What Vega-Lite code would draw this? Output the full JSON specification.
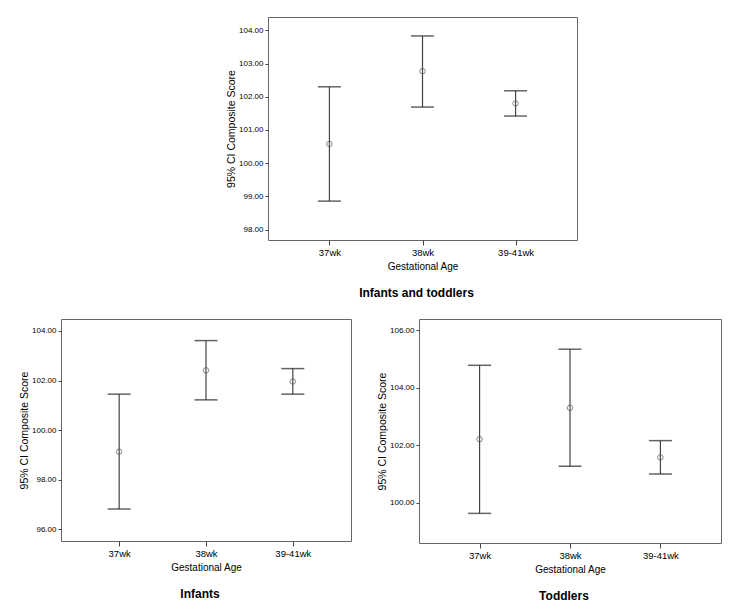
{
  "$schema": "https://vega.github.io/schema/vega-lite/v6.json",
  "background": "white",
  "padding": {"left": 19, "top": 16, "right": 5, "bottom": 5},
  "datasets": {
    "ci": [
      {"group": "Infants and toddlers", "age": "37wk", "lower": 98.86, "mean": 100.58, "upper": 102.30},
      {"group": "Infants and toddlers", "age": "38wk", "lower": 101.69, "mean": 102.77, "upper": 103.83},
      {"group": "Infants and toddlers", "age": "39-41wk", "lower": 101.42, "mean": 101.80, "upper": 102.18},
      {"group": "Infants", "age": "37wk", "lower": 96.82, "mean": 99.13, "upper": 101.45},
      {"group": "Infants", "age": "38wk", "lower": 101.22, "mean": 102.41, "upper": 103.61},
      {"group": "Infants", "age": "39-41wk", "lower": 101.45, "mean": 101.96, "upper": 102.48},
      {"group": "Toddlers", "age": "37wk", "lower": 99.63, "mean": 102.21, "upper": 104.78},
      {"group": "Toddlers", "age": "38wk", "lower": 101.27, "mean": 103.30, "upper": 105.34},
      {"group": "Toddlers", "age": "39-41wk", "lower": 101.00, "mean": 101.58, "upper": 102.16}
    ]
  },
  "config": {
    "font": "Liberation Sans",
    "view": {"stroke": "#666", "strokeWidth": 1},
    "axis": {
      "labelFont": "Liberation Sans", "labelFontSize": 9.5, "labelColor": "#000",
      "titleFont": "Liberation Sans", "titleFontSize": 10, "titleFontWeight": "normal", "titleColor": "#000",
      "domain": false, "grid": false, "tickColor": "#444", "tickSize": 5,
      "labelPadding": 2, "titlePadding": 5
    },
    "axisY": {"tickSize": 3, "labelFontSize": 8, "titlePadding": 2, "titleFontSize": 10.5},
    "title": {"orient": "bottom", "anchor": "middle", "frame": "group", "fontSize": 12, "fontWeight": "bold", "font": "Liberation Sans", "color": "#000", "offset": 16, "dx": -6}
  },
  "spacing": 19,
  "vconcat": [
    {
      "spacing": 0,
      "hconcat": [
        {
          "width": 165, "height": 10,
          "view": {"stroke": null},
          "data": {"values": []},
          "mark": {"type": "point", "opacity": 0}
        },
        {
          "width": 309, "height": 223,
          "title": {"text": "Infants and toddlers"},
          "data": {"name": "ci"},
          "transform": [{"filter": "datum.group === 'Infants and toddlers'"}],
          "encoding": {
            "x": {"field": "age", "type": "ordinal", "sort": ["37wk", "38wk", "39-41wk"], "scale": {"type": "point", "padding": 0.66}, "axis": {"title": "Gestational Age", "labelAngle": 0}}
          },
          "layer": [
            {"mark": {"type": "rule", "color": "#444", "strokeWidth": 1.2},
             "encoding": {"y": {"field": "lower", "type": "quantitative", "title": "95% CI Composite Score", "scale": {"domain": [97.69, 104.4], "nice": false, "zero": false}, "axis": {"values": [98, 99, 100, 101, 102, 103, 104], "format": ".2f"}}, "y2": {"field": "upper"}}},
            {"mark": {"type": "tick", "color": "#222", "size": 23, "thickness": 1.5},
             "encoding": {"y": {"field": "lower", "type": "quantitative", "title": "95% CI Composite Score", "scale": {"domain": [97.69, 104.4], "nice": false, "zero": false}, "axis": {"values": [98, 99, 100, 101, 102, 103, 104], "format": ".2f"}}}},
            {"mark": {"type": "tick", "color": "#222", "size": 23, "thickness": 1.5},
             "encoding": {"y": {"field": "upper", "type": "quantitative", "title": "95% CI Composite Score", "scale": {"domain": [97.69, 104.4], "nice": false, "zero": false}, "axis": {"values": [98, 99, 100, 101, 102, 103, 104], "format": ".2f"}}}},
            {"mark": {"type": "point", "shape": "circle", "filled": false, "color": "#555", "size": 30, "strokeWidth": 1},
             "encoding": {"y": {"field": "mean", "type": "quantitative", "title": "95% CI Composite Score", "scale": {"domain": [97.69, 104.4], "nice": false, "zero": false}, "axis": {"values": [98, 99, 100, 101, 102, 103, 104], "format": ".2f"}}}}
          ]
        }
      ]
    },
    {
      "spacing": 25,
      "hconcat": [
        {
          "width": 290, "height": 222,
          "title": {"text": "Infants"},
          "data": {"name": "ci"},
          "transform": [{"filter": "datum.group === 'Infants'"}],
          "encoding": {
            "x": {"field": "age", "type": "ordinal", "sort": ["37wk", "38wk", "39-41wk"], "scale": {"type": "point", "padding": 0.67}, "axis": {"title": "Gestational Age", "labelAngle": 0}}
          },
          "layer": [
            {"mark": {"type": "rule", "color": "#444", "strokeWidth": 1.2},
             "encoding": {"y": {"field": "lower", "type": "quantitative", "title": "95% CI Composite Score", "scale": {"domain": [95.53, 104.48], "nice": false, "zero": false}, "axis": {"values": [96, 98, 100, 102, 104], "format": ".2f"}}, "y2": {"field": "upper"}}},
            {"mark": {"type": "tick", "color": "#222", "size": 23, "thickness": 1.5},
             "encoding": {"y": {"field": "lower", "type": "quantitative", "title": "95% CI Composite Score", "scale": {"domain": [95.53, 104.48], "nice": false, "zero": false}, "axis": {"values": [96, 98, 100, 102, 104], "format": ".2f"}}}},
            {"mark": {"type": "tick", "color": "#222", "size": 23, "thickness": 1.5},
             "encoding": {"y": {"field": "upper", "type": "quantitative", "title": "95% CI Composite Score", "scale": {"domain": [95.53, 104.48], "nice": false, "zero": false}, "axis": {"values": [96, 98, 100, 102, 104], "format": ".2f"}}}},
            {"mark": {"type": "point", "shape": "circle", "filled": false, "color": "#555", "size": 30, "strokeWidth": 1},
             "encoding": {"y": {"field": "mean", "type": "quantitative", "title": "95% CI Composite Score", "scale": {"domain": [95.53, 104.48], "nice": false, "zero": false}, "axis": {"values": [96, 98, 100, 102, 104], "format": ".2f"}}}}
          ]
        },
        {
          "width": 302, "height": 224,
          "title": {"text": "Toddlers"},
          "data": {"name": "ci"},
          "transform": [{"filter": "datum.group === 'Toddlers'"}],
          "encoding": {
            "x": {"field": "age", "type": "ordinal", "sort": ["37wk", "38wk", "39-41wk"], "scale": {"type": "point", "padding": 0.67}, "axis": {"title": "Gestational Age", "labelAngle": 0}}
          },
          "layer": [
            {"mark": {"type": "rule", "color": "#444", "strokeWidth": 1.2},
             "encoding": {"y": {"field": "lower", "type": "quantitative", "title": "95% CI Composite Score", "scale": {"domain": [98.6, 106.39], "nice": false, "zero": false}, "axis": {"values": [100, 102, 104, 106], "format": ".2f"}}, "y2": {"field": "upper"}}},
            {"mark": {"type": "tick", "color": "#222", "size": 23, "thickness": 1.5},
             "encoding": {"y": {"field": "lower", "type": "quantitative", "title": "95% CI Composite Score", "scale": {"domain": [98.6, 106.39], "nice": false, "zero": false}, "axis": {"values": [100, 102, 104, 106], "format": ".2f"}}}},
            {"mark": {"type": "tick", "color": "#222", "size": 23, "thickness": 1.5},
             "encoding": {"y": {"field": "upper", "type": "quantitative", "title": "95% CI Composite Score", "scale": {"domain": [98.6, 106.39], "nice": false, "zero": false}, "axis": {"values": [100, 102, 104, 106], "format": ".2f"}}}},
            {"mark": {"type": "point", "shape": "circle", "filled": false, "color": "#555", "size": 30, "strokeWidth": 1},
             "encoding": {"y": {"field": "mean", "type": "quantitative", "title": "95% CI Composite Score", "scale": {"domain": [98.6, 106.39], "nice": false, "zero": false}, "axis": {"values": [100, 102, 104, 106], "format": ".2f"}}}}
          ]
        }
      ]
    }
  ]
}
